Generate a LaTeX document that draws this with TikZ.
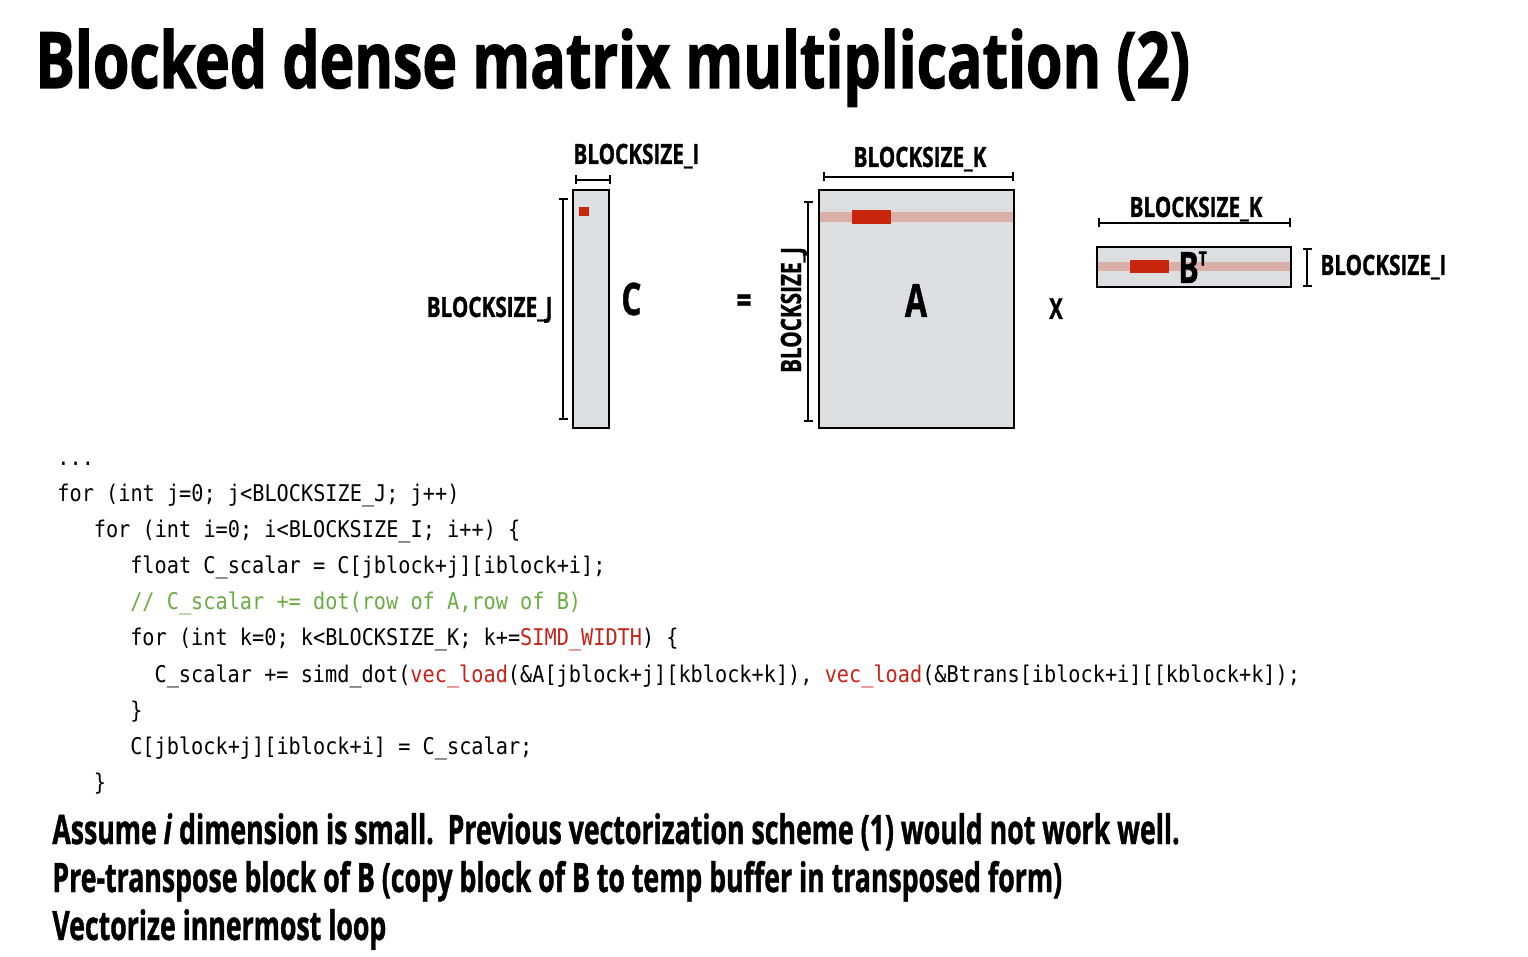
\documentclass[tikz,border=0pt]{standalone}
\usepackage{fontspec}
\setmainfont{Open Sans}
\setmonofont[FakeStretch=0.88]{DejaVu Sans Mono}
\newfontfamily\slidefont[FakeStretch=0.7, FakeBold=1]{Open Sans}
\newfontfamily\titlefont[FakeStretch=0.755, FakeBold=1.5]{Open Sans}
\newfontfamily\notefont[FakeStretch=0.657, FakeBold=1]{Open Sans}
\newfontfamily\dimfont[FakeStretch=0.74, FakeBold=1]{Open Sans}
\usetikzlibrary{positioning,arrows.meta}
\definecolor{blockgray}{RGB}{221,222,224}
\definecolor{rowred}{RGB}{217,175,168}
\definecolor{hotred}{RGB}{200,38,12}
\definecolor{codered}{RGB}{200,34,22}
\definecolor{codegreen}{RGB}{106,172,66}
\tikzset{
  matblk/.style={
    draw,
    line width=1pt,
    fill=blockgray,
    inner sep=0pt
  },
  rowband/.style={
    fill=rowred,
    inner sep=0pt
  },
  elem/.style={
    fill=hotred,
    inner sep=0pt
  },
  dimbar/.style={
    {Bar[width=4.5pt]}-{Bar[width=4.5pt]},
    line width=0.9pt
  },
  dimlbl/.style={
    font=\dimfont\bfseries\fontsize{14}{16}\selectfont,
    inner sep=0pt
  },
  bigname/.style={
    font=\slidefont\bfseries\fontsize{22.4}{26}\selectfont,
    inner sep=0pt
  },
  codeln/.style={
    anchor=base west,
    font=\ttfamily\fontsize{11.5}{13}\selectfont,
    inner sep=0pt
  },
  bullet/.style={
    anchor=base west,
    font=\notefont\bfseries\fontsize{20.3}{24}\selectfont,
    inner sep=0pt
  }
}
\begin{document}
\begin{tikzpicture}[x=0.5pt,y=-0.5pt]
  \def\cw{12.15}
  \def\cx{57}
  \useasboundingbox (0,0) rectangle (1528,957);
  % title
  \node[anchor=base west, inner sep=0pt, font=\titlefont\bfseries\fontsize{39}{44}\selectfont] (title) at (35,88) {Blocked dense matrix multiplication (2)};
  % the three blocks
  \node[matblk, minimum width=18pt, minimum height=119pt] (C) at (591,309) {};
  \node[matblk, minimum width=97.5pt, minimum height=119pt] (A) at (916.5,309) {};
  \node[matblk, minimum width=97pt, minimum height=20pt] (BT) at (1194,267) {};
  \node[rowband, minimum width=96.5pt, minimum height=5pt] (Arow) at (916.5,217) {};
  \node[rowband, minimum width=96pt, minimum height=4.5pt] (Brow) at (1194,267) {};
  \node[elem, minimum width=5pt, minimum height=4.5pt] (Cel) at (584,211.5) {};
  \node[elem, minimum width=19.5pt, minimum height=7pt] (Avec) at (871.5,217) {};
  \node[elem, minimum width=19.5pt, minimum height=6.5pt] (Bvec) at (1149.5,266.5) {};
  % names
  \node[bigname, anchor=base west] (Cname) at (621,315) {C};
  \node[bigname, anchor=base, font=\slidefont\bfseries\fontsize{23}{26}\selectfont] (Aname) at (916,317) {A};
  \node[bigname, anchor=base west, font=\slidefont\bfseries\fontsize{21.7}{26}\selectfont] (Bname) at (1178,283) {B\raisebox{0.4em}{\fontsize{10}{12}\selectfont T}};
  \node[bigname, font=\slidefont\bfseries\fontsize{19}{22}\selectfont] (eq) at (744,304) {=};
  \node[bigname, anchor=base, font=\slidefont\bfseries\fontsize{14.5}{16}\selectfont] (times) at (1056,319) {X};
  % dimension bars
  \coordinate (ci0) at (575,180);
  \coordinate (ci1) at (611,180);
  \coordinate (cj0) at (563,198);
  \coordinate (cj1) at (563,420);
  \coordinate (ak0) at (823,177);
  \coordinate (ak1) at (1014,177);
  \coordinate (aj0) at (808,201);
  \coordinate (aj1) at (808,422);
  \coordinate (bk0) at (1098,223);
  \coordinate (bk1) at (1291,223);
  \coordinate (bi0) at (1307,248);
  \coordinate (bi1) at (1307,287);
  \draw[dimbar] (ci0) -- (ci1);
  \draw[dimbar] (cj0) -- (cj1);
  \draw[dimbar] (ak0) -- (ak1);
  \draw[dimbar] (aj0) -- (aj1);
  \draw[dimbar] (bk0) -- (bk1);
  \draw[dimbar] (bi0) -- (bi1);
  \node[dimlbl, anchor=base west] (lci) at (573,164) {BLOCKSIZE\_I};
  \node[dimlbl, anchor=base east] (lcj) at (553,317) {BLOCKSIZE\_J};
  \node[dimlbl, anchor=base] (lak) at (920,167) {BLOCKSIZE\_K};
  \node[dimlbl, anchor=base, rotate=90] (laj) at (801,310) {BLOCKSIZE\_J};
  \node[dimlbl, anchor=base] (lbk) at (1196,217) {BLOCKSIZE\_K};
  \node[dimlbl, anchor=base west] (lbi) at (1320,275) {BLOCKSIZE\_I};
  % code
  \node[codeln] (code0) at (\cx,466) {...};
  \node[codeln] (code1) at (\cx,502) {for (int j=0; j<BLOCKSIZE\_J; j++)};
  \node[codeln] (code2) at (\cx+3*\cw,538) {for (int i=0; i<BLOCKSIZE\_I; i++) \{};
  \node[codeln] (code3) at (\cx+6*\cw,574) {float C\_scalar = C[jblock+j][iblock+i];};
  \node[codeln, text=codegreen] (code4) at (\cx+6*\cw,610) {// C\_scalar += dot(row of A,row of B)};
  \node[codeln] (code5) at (\cx+6*\cw,646) {for (int k=0; k<BLOCKSIZE\_K; k+=\textcolor{codered}{SIMD\_WIDTH}) \{};
  \node[codeln] (code6) at (\cx+8*\cw,682) {C\_scalar += simd\_dot(\textcolor{codered}{vec\_load}(\&A[jblock+j][kblock+k]), \textcolor{codered}{vec\_load}(\&Btrans[iblock+i][[kblock+k]);};
  \node[codeln] (code7) at (\cx+6*\cw,718) {\}};
  \node[codeln] (code8) at (\cx+6*\cw,754) {C[jblock+j][iblock+i] = C\_scalar;};
  \node[codeln] (code9) at (\cx+3*\cw,790) {\}};
  % notes
  \node[bullet] (note1) at (52,844) {Assume \textit{i} dimension is small.\ \ Previous vectorization scheme (1) would not work well.};
  \node[bullet] (note2) at (52,892) {Pre-transpose block of B (copy block of B to temp buffer in transposed form)};
  \node[bullet] (note3) at (52,940) {Vectorize innermost loop};
\end{tikzpicture}
\end{document}
